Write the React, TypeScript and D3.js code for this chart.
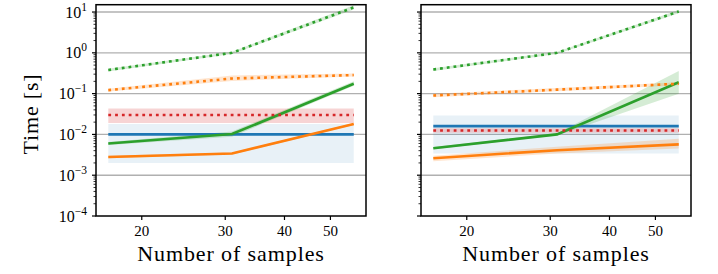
import React from 'react';
import * as d3 from 'd3';

// number of samples on the x axis
const samples = [17, 31, 56];

// left panel
const leftBlue = [0.01, 0.01, 0.01];
const leftBlueLo = [0.002, 0.002, 0.002];
const leftBlueHi = [0.018, 0.018, 0.018];
const leftOrange = [0.0028, 0.0034, 0.018];
const leftOrangeLo = [0.0026, 0.0032, 0.017];
const leftOrangeHi = [0.003, 0.0036, 0.019];
const leftGreen = [0.006, 0.0102, 0.175];
const leftGreenLo = [0.0055, 0.0088, 0.155];
const leftGreenHi = [0.0065, 0.0118, 0.2];
const leftRed = [0.03, 0.03, 0.03];
const leftRedLo = [0.019, 0.019, 0.019];
const leftRedHi = [0.043, 0.043, 0.043];
const leftOrangeDot = [0.122, 0.235, 0.285];
const leftOrangeDotLo = [0.113, 0.205, 0.262];
const leftOrangeDotHi = [0.132, 0.28, 0.31];
const leftGreenDot = [0.38, 1.0, 13];
const leftGreenDotLo = [0.35, 0.94, 11.5];
const leftGreenDotHi = [0.41, 1.07, 14.6];

// right panel
const rightBlue = [0.016, 0.016, 0.016];
const rightBlueLo = [0.0034, 0.0034, 0.0034];
const rightBlueHi = [0.029, 0.029, 0.029];
const rightOrange = [0.0026, 0.0041, 0.0057];
const rightOrangeLo = [0.0022, 0.0034, 0.0045];
const rightOrangeHi = [0.003, 0.005, 0.0078];
const rightGreen = [0.0046, 0.01, 0.19];
const rightGreenLo = [0.0043, 0.0094, 0.1];
const rightGreenHi = [0.0049, 0.0107, 0.36];
const rightRed = [0.0125, 0.0125, 0.0125];
const rightRedLo = [0.011, 0.011, 0.011];
const rightRedHi = [0.0142, 0.0142, 0.0142];
const rightOrangeDot = [0.09, 0.125, 0.175];
const rightOrangeDotLo = [0.082, 0.114, 0.16];
const rightOrangeDotHi = [0.099, 0.137, 0.19];
const rightGreenDot = [0.39, 1.0, 10.3];
const rightGreenDotLo = [0.36, 0.94, 9.4];
const rightGreenDotHi = [0.42, 1.06, 11.3];

const xTicks = [20, 30, 40, 50];
const yTicks = [1e-4, 1e-3, 1e-2, 1e-1, 1, 10];
const yTickExp = ['−4', '−3', '−2', '−1', '0', '1'];

const C = { blue: '#1f77b4', orange: '#ff7f0e', green: '#2ca02c', red: '#d62728' };
const FONT = 'Liberation Serif, Times New Roman, DejaVu Serif, serif';

const top = 4.7;
const bottom = 216;

type Series = { mean: number[]; lo: number[]; hi: number[]; color: string; dotted?: boolean; bandAlpha: number };

const y = d3.scaleLog().domain([1e-4, Math.pow(10, 1.18)]).range([bottom, top]);

const minorY: number[] = [];
for (let e = -4; e <= 1; e++) {
  for (let m = 2; m <= 9; m++) {
    const v = m * Math.pow(10, e);
    if (v < y.domain()[1]) minorY.push(v);
  }
}

function Panel({ x0, x1, series, labels }: { x0: number; x1: number; series: Series[]; labels: boolean }) {
  const x = d3.scaleLog().domain([Math.pow(10, 1.2045), Math.pow(10, 1.774)]).range([x0, x1]);
  const line = d3.line<number>().x((_, i) => x(samples[i])).y((d) => y(d));
  const area = (lo: number[], hi: number[]) =>
    d3.area<number>().x((_, i) => x(samples[i])).y0((_, i) => y(lo[i])).y1((_, i) => y(hi[i]))(samples);

  return (
    <g>
      {yTicks.slice(1).map((t) => (
        <line key={t} x1={x0} x2={x1} y1={y(t)} y2={y(t)} stroke="#b0b0b0" strokeWidth={1.4} />
      ))}
      {series.map((s, i) => (
        <path key={'b' + i} d={area(s.lo, s.hi) || ''} fill={s.color} fillOpacity={s.bandAlpha} />
      ))}
      {series.map((s, i) => (
        <path
          key={'l' + i}
          d={line(s.mean) || ''}
          fill="none"
          stroke={s.color}
          strokeWidth={2.6}
          strokeDasharray={s.dotted ? '2.8 4' : undefined}
        />
      ))}
      <rect x={x0} y={top} width={x1 - x0} height={bottom - top} fill="none" stroke="#000" strokeWidth={1.5} />
      {yTicks.map((t) => (
        <line key={'yt' + t} x1={x0 - 4} x2={x0} y1={y(t)} y2={y(t)} stroke="#000" strokeWidth={1.2} />
      ))}
      {minorY.map((t) => (
        <line key={'ym' + t} x1={x0 - 2.5} x2={x0} y1={y(t)} y2={y(t)} stroke="#000" strokeWidth={0.8} />
      ))}
      {xTicks.map((t) => (
        <g key={'xt' + t}>
          <line x1={x(t)} x2={x(t)} y1={bottom} y2={bottom + 4} stroke="#000" strokeWidth={1.2} />
          <text x={x(t)} y={236} textAnchor="middle" fontSize={15} fontFamily={FONT}>
            {t}
          </text>
        </g>
      ))}
      {labels &&
        yTicks.map((t, i) => (
          <text key={'yl' + t} x={87} y={y(t) + 5.5} textAnchor="end" fontSize={16} fontFamily={FONT}>
            10
            <tspan dy={-7} fontSize={11.5}>
              {yTickExp[i]}
            </tspan>
          </text>
        ))}
      <text
        x={(x0 + x1) / 2}
        y={261}
        textAnchor="middle"
        fontSize={22}
        letterSpacing={0.9}
        fontFamily={FONT}
      >
        Number of samples
      </text>
    </g>
  );
}

function make(data: number[][]): Series[] {
  const cols = [C.blue, C.orange, C.green, C.red, C.orange, C.green];
  const out: Series[] = [];
  for (let i = 0; i < 6; i++) {
    out.push({
      mean: data[i * 3],
      lo: data[i * 3 + 1],
      hi: data[i * 3 + 2],
      color: cols[i],
      dotted: i >= 3,
      bandAlpha: i === 0 ? 0.1 : 0.2,
    });
  }
  return out;
}

const leftSeries = make([
  leftBlue, leftBlueLo, leftBlueHi,
  leftOrange, leftOrangeLo, leftOrangeHi,
  leftGreen, leftGreenLo, leftGreenHi,
  leftRed, leftRedLo, leftRedHi,
  leftOrangeDot, leftOrangeDotLo, leftOrangeDotHi,
  leftGreenDot, leftGreenDotLo, leftGreenDotHi,
]);

const rightSeries = make([
  rightBlue, rightBlueLo, rightBlueHi,
  rightOrange, rightOrangeLo, rightOrangeHi,
  rightGreen, rightGreenLo, rightGreenHi,
  rightRed, rightRedLo, rightRedHi,
  rightOrangeDot, rightOrangeDotLo, rightOrangeDotHi,
  rightGreenDot, rightGreenDotLo, rightGreenDotHi,
]);

export default function App() {
  return (
    <svg width={718} height={274} style={{ position: 'absolute', left: 0, top: 0, background: '#fff' }}>
      <Panel x0={96} x1={366} series={leftSeries} labels={true} />
      <Panel x0={421} x1={691} series={rightSeries} labels={false} />
      <text
        transform={`translate(38,114) rotate(-90)`}
        textAnchor="middle"
        fontSize={22}
        letterSpacing={0.8}
        fontFamily={FONT}
      >
        Time [s]
      </text>
    </svg>
  );
}
